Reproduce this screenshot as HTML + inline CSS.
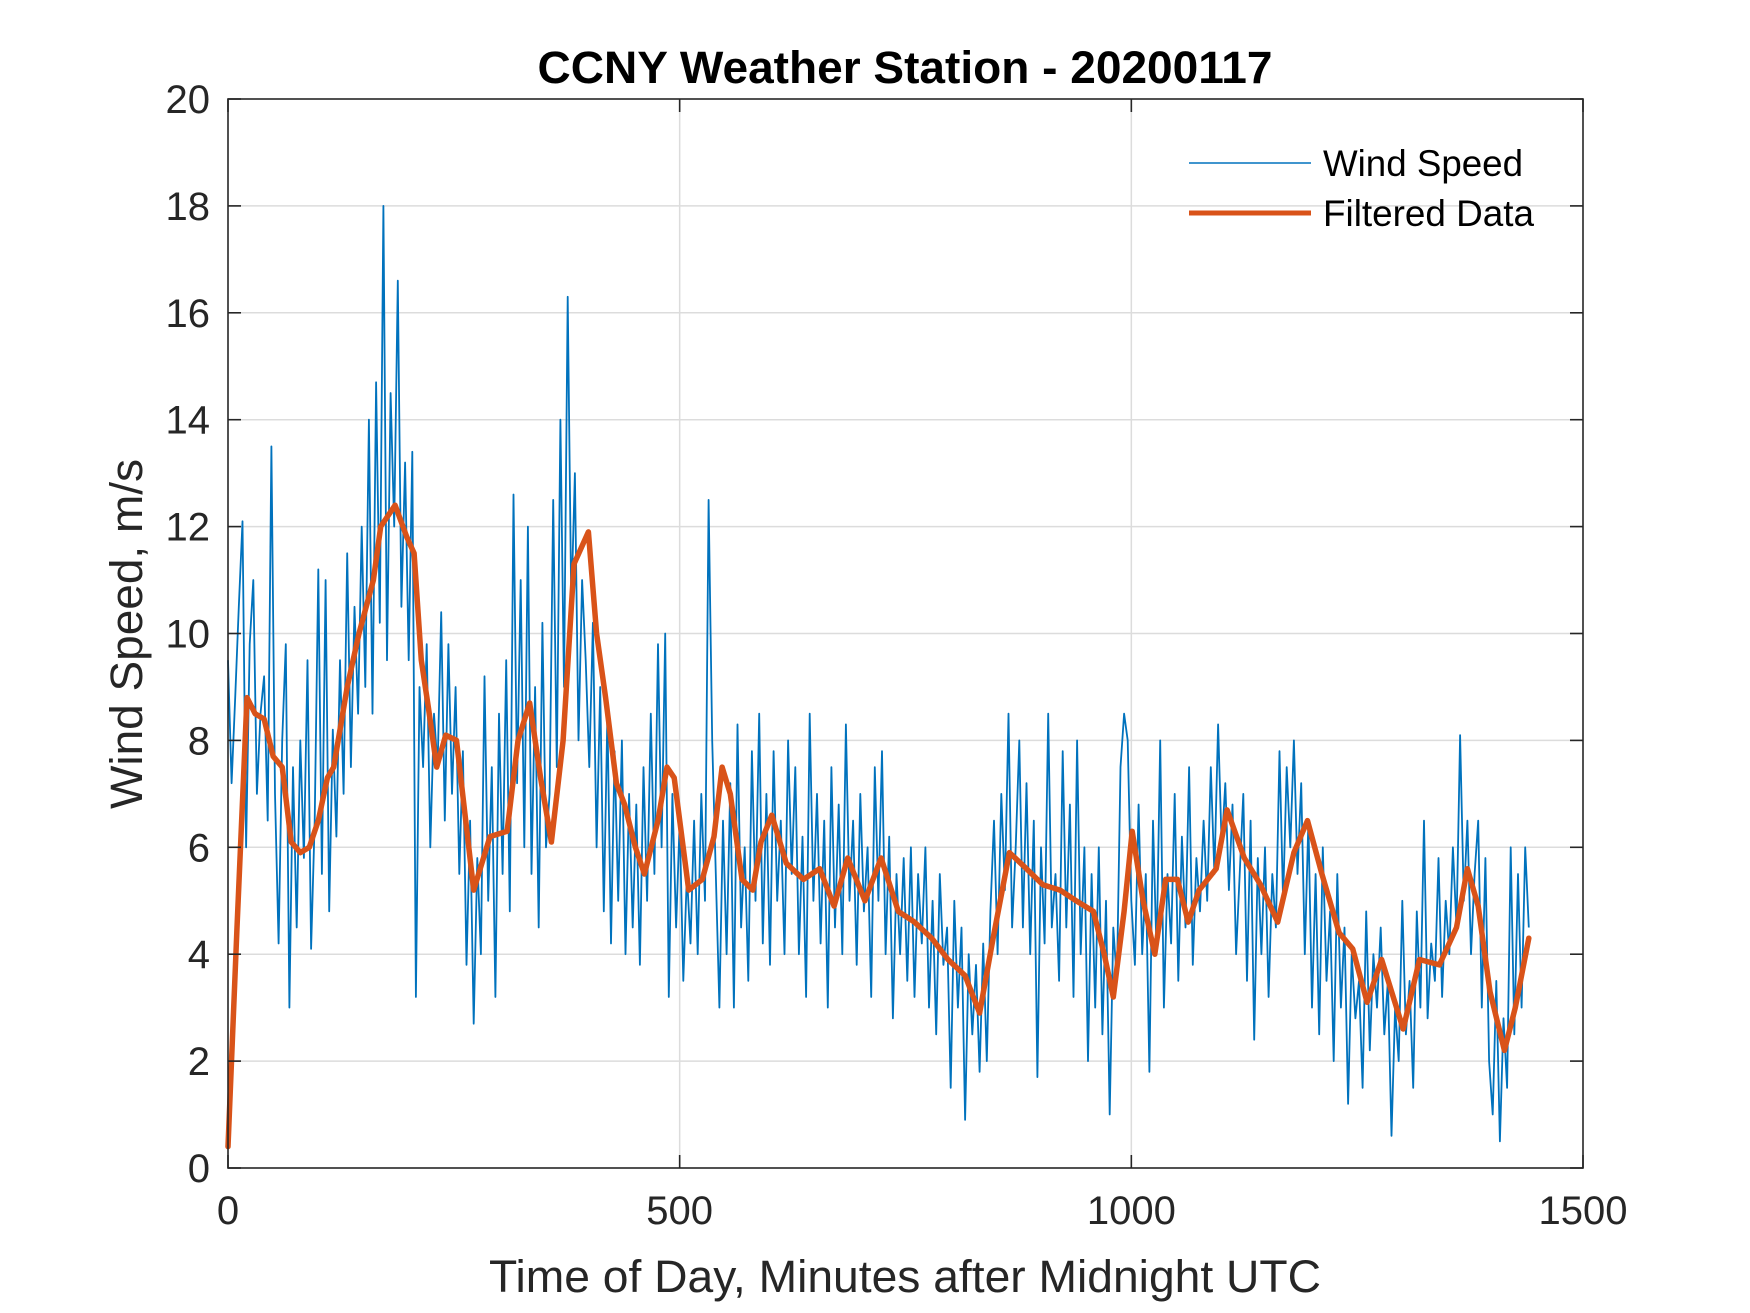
<!DOCTYPE html>
<html><head><meta charset="utf-8"><style>
html,body{margin:0;padding:0;background:#fff;}
svg{display:block;font-family:"Liberation Sans",Arial,sans-serif;}
</style></head><body>
<svg id="chart" width="1750" height="1313" viewBox="0 0 1750 1313" xmlns="http://www.w3.org/2000/svg">
<rect width="1750" height="1313" fill="#fff"/>
<g id="grid"></g>
<g id="series"></g>
<rect x="228" y="99" width="1355" height="1069" fill="none" stroke="#262626" stroke-width="1.6"/>
<g id="ticks"></g>
<text x="905" y="83" text-anchor="middle" font-size="45" font-weight="bold" fill="#000" textLength="735" lengthAdjust="spacingAndGlyphs">CCNY Weather Station - 20200117</text>
<text x="905" y="1292" text-anchor="middle" font-size="45" fill="#262626" textLength="832" lengthAdjust="spacingAndGlyphs">Time of Day, Minutes after Midnight UTC</text>
<text transform="translate(142,634) rotate(-90)" text-anchor="middle" font-size="45" fill="#262626" textLength="350" lengthAdjust="spacingAndGlyphs">Wind Speed, m/s</text>
<g>
<line x1="1189" y1="163" x2="1311" y2="163" stroke="#0072BD" stroke-width="1.6"/>
<text x="1323" y="176" font-size="37" fill="#000" textLength="200" lengthAdjust="spacingAndGlyphs">Wind Speed</text>
<line x1="1189" y1="213" x2="1311" y2="213" stroke="#D95319" stroke-width="5"/>
<text x="1323" y="226" font-size="37" fill="#000" textLength="211" lengthAdjust="spacingAndGlyphs">Filtered Data</text>
</g>
</svg>
<script>
const xTicks=[0,500,1000,1500];
const yTicks=[0,2,4,6,8,10,12,14,16,18,20];
const windStep=4;
const windSpeed=[9.5,7.2,8.8,10.5,12.1,6.0,9.8,11.0,7.0,8.5,
9.2,6.5,13.5,7.0,4.2,8.0,9.8,3.0,7.5,4.5,
8.0,5.8,9.5,4.1,6.5,11.2,5.5,11.0,4.8,8.2,
6.2,9.5,7.0,11.5,7.5,10.5,8.5,12.0,9.0,14.0,
8.5,14.7,10.2,18.0,9.5,14.5,12.0,16.6,10.5,13.2,
9.5,13.4,3.2,9.0,7.5,9.8,6.0,8.5,7.5,10.4,
6.5,9.8,7.0,9.0,5.5,7.8,3.8,6.5,2.7,5.8,
4.0,9.2,5.0,7.5,3.2,8.5,5.5,9.5,4.8,12.6,
7.2,11.0,6.0,12.0,5.5,9.0,4.5,10.2,6.0,7.0,
12.5,7.5,14.0,9.0,16.3,10.5,13.0,8.0,11.0,9.5,
7.5,10.2,6.0,9.0,4.8,8.5,4.2,7.8,5.0,8.0,
4.0,7.0,4.5,6.8,3.8,7.5,5.0,8.5,5.5,9.8,
6.0,10.0,3.2,7.0,4.5,6.5,3.5,5.5,4.2,6.5,
4.0,7.0,5.0,12.5,8.0,5.5,3.0,6.5,4.0,7.2,
3.0,8.3,4.5,6.0,3.5,7.8,5.0,8.5,4.2,7.0,
3.8,7.8,5.0,6.5,4.0,8.0,5.5,7.5,4.0,6.2,
3.2,8.5,5.0,7.0,4.2,6.5,3.0,7.5,4.5,6.8,
4.0,8.3,5.0,6.5,3.8,7.0,4.8,6.0,3.2,7.5,
5.0,7.8,4.0,6.2,2.8,5.5,4.0,5.8,3.5,6.0,
3.2,5.5,4.2,6.0,3.0,5.0,2.5,5.5,3.8,4.5,
1.5,5.0,3.0,4.5,0.9,4.0,2.5,3.8,1.8,4.2,
2.0,4.8,6.5,4.0,7.0,5.2,8.5,4.5,6.0,8.0,
4.5,7.2,4.0,6.5,1.7,6.0,4.2,8.5,4.5,5.5,
3.5,7.8,4.5,6.8,3.2,8.0,4.0,6.0,2.0,5.5,
3.0,6.0,2.5,5.0,1.0,4.5,3.5,7.5,8.5,8.0,
5.0,3.8,6.8,4.0,5.5,1.8,6.5,4.0,8.0,3.0,
5.5,4.2,7.0,3.5,6.2,4.5,7.5,3.8,5.8,4.8,
6.5,5.0,7.5,5.5,8.3,6.0,7.2,5.2,6.8,4.0,
5.5,7.0,3.5,6.5,2.4,5.8,4.0,6.0,3.2,5.5,
4.5,7.8,5.0,7.5,6.0,8.0,5.5,7.2,4.0,6.5,
3.0,5.5,2.5,6.0,3.5,4.8,2.0,5.5,3.0,4.5,
1.2,4.0,2.8,3.5,1.5,4.8,2.2,4.0,3.0,4.5,
2.5,3.5,0.6,3.0,2.0,5.0,2.5,3.5,1.5,4.8,
3.0,6.5,2.8,4.2,3.5,5.8,3.2,5.0,4.0,6.0,
4.5,8.1,5.0,6.5,4.0,5.5,6.5,3.0,5.8,2.0,
1.0,3.5,0.5,2.8,1.5,6.0,2.5,5.5,3.0,6.0,4.5];
const filtT=[0,10,21,30,40,50,60,70,80,90,100,110,117,132,145,161,169,185,198,206,214,222,231,241,253,272,290,309,321,334,346,358,371,383,399,408,418,430,439,451,461,476,486,494,510,525,538,547,556,569,581,590,602,618,637,655,671,686,705,723,742,760,779,797,816,832,847,865,884,902,921,939,958,970,980,992,1001,1013,1026,1038,1051,1063,1075,1094,1106,1125,1143,1162,1180,1195,1211,1230,1245,1261,1277,1301,1319,1341,1360,1372,1384,1397,1413,1425,1440];
const filtV=[0.4,4.5,8.8,8.5,8.4,7.7,7.5,6.1,5.9,6.0,6.5,7.3,7.5,9.0,10.0,11.0,12.0,12.4,11.8,11.5,9.5,8.6,7.5,8.1,8.0,5.2,6.2,6.3,8.0,8.7,7.3,6.1,8.0,11.3,11.9,10.0,8.8,7.2,6.8,6.0,5.5,6.5,7.5,7.3,5.2,5.4,6.2,7.5,7.0,5.4,5.2,6.1,6.6,5.7,5.4,5.6,4.9,5.8,5.0,5.8,4.8,4.6,4.3,3.9,3.6,2.9,4.3,5.9,5.6,5.3,5.2,5.0,4.8,4.0,3.2,4.8,6.3,5.0,4.0,5.4,5.4,4.6,5.2,5.6,6.7,5.8,5.3,4.6,5.9,6.5,5.5,4.4,4.1,3.1,3.9,2.6,3.9,3.8,4.5,5.6,4.9,3.3,2.2,3.0,4.3];
const X0=228,X1=1583,Y0=1168,Y1=99,XMAX=1500,YMAX=20;
function sx(v){return X0+(X1-X0)*v/XMAX;}
function sy(v){return Y0-(Y0-Y1)*v/YMAX;}
const NS='http://www.w3.org/2000/svg';
function mk(tag,attrs,parent){const e=document.createElementNS(NS,tag);for(const k in attrs)e.setAttribute(k,attrs[k]);parent.appendChild(e);return e;}
const grid=document.getElementById('grid'),ticks=document.getElementById('ticks'),series=document.getElementById('series');
yTicks.forEach(v=>{
  const y=sy(v);
  if(v>0&&v<YMAX){const g=mk('line',{x1:X0,x2:X1,y1:y,y2:y,stroke:'#dcdcdc','stroke-width':1.5},grid);
  
  }
  const t1=mk('line',{x1:X0,x2:X0+13,y1:y,y2:y,stroke:'#262626','stroke-width':1.6},ticks);
  
  
  const t2=mk('line',{x1:X1,x2:X1-13,y1:y,y2:y,stroke:'#262626','stroke-width':1.6},ticks);
  
  
  const lb=mk('text',{x:X0-18,y:y+14,'text-anchor':'end','font-size':40,fill:'#262626'},ticks);
  lb.textContent=v;
  
  
});
xTicks.forEach(v=>{
  const x=sx(v);
  if(v>0&&v<XMAX){const g=mk('line',{x1:x,x2:x,y1:Y0,y2:Y1,stroke:'#dcdcdc','stroke-width':1.5},grid);
  
  }
  const t1=mk('line',{x1:x,x2:x,y1:Y0,y2:Y0-13,stroke:'#262626','stroke-width':1.6},ticks);
  
  
  const t2=mk('line',{x1:x,x2:x,y1:Y1,y2:Y1+13,stroke:'#262626','stroke-width':1.6},ticks);
  
  
  const lb=mk('text',{x:x,y:Y0+56,'text-anchor':'middle','font-size':40,fill:'#262626'},ticks);
  lb.textContent=v;
  
  
});
const wp=windSpeed.map((v,i)=>sx(i*windStep).toFixed(1)+','+sy(v).toFixed(1)).join(' ');
const wl=mk('polyline',{points:wp,fill:'none',stroke:'#0072BD','stroke-width':1.8,'stroke-linejoin':'round'},series);


const fp=filtV.map((v,i)=>sx(filtT[i]).toFixed(1)+','+sy(v).toFixed(1)).join(' ');
const fl=mk('polyline',{points:fp,fill:'none',stroke:'#D95319','stroke-width':5.5,'stroke-linejoin':'round','stroke-linecap':'round'},series);


</script>
</body></html>
